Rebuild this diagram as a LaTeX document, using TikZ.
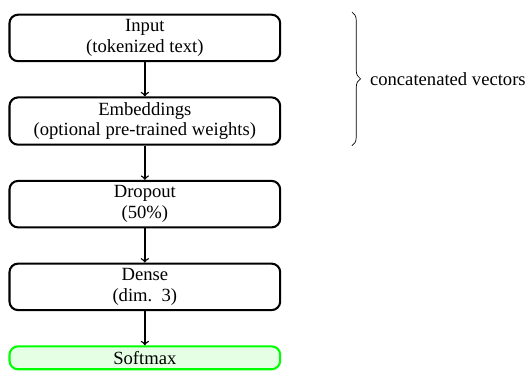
\documentclass[tikz,border=0pt]{standalone}
\usepackage{fontspec}
\setmainfont{Liberation Serif}
\usetikzlibrary{positioning, decorations.pathreplacing}

\begin{document}
\begin{tikzpicture}[layer/.style={draw, very thick, rounded corners=5pt, align=center, minimum width=157pt, inner ysep=2.8pt},
    every node/.style={font=\fontsize{10.8pt}{12pt}\selectfont},
    node distance=19.8pt, >=to]
    \useasboundingbox (0,0) rectangle (306.8pt,-214.6pt);
    \node[layer] (input) at (84pt,-22pt) {Input\\(tokenized text)};
    \node[layer, below=of input] (emb) {Embeddings\\(optional pre-trained weights)};
    \node[layer, below=of emb] (drop) {Dropout\\(50\%)};
    \node[layer, below=of drop] (dense) {Dense\\(dim.~~3)};
    \node[layer, below=of dense, draw=green, fill=green!10] (soft) {Softmax};

    \draw[->, thick] (input) -- (emb);
    \draw[->, thick] (emb) -- (drop);
    \draw[->, thick] (drop) -- (dense);
    \draw[->, thick] (dense) -- (soft);

    % brace over the first two layers
    \coordinate (btop) at ([xshift=41pt, yshift=1pt]input.north east);
    \coordinate (bbot) at ([xshift=41pt]emb.south east);
    \draw[decorate, decoration={brace, amplitude=5pt}] (btop) -- (bbot)
        node[midway, right=7pt] (concat) {concatenated vectors};
\end{tikzpicture}
\end{document}
